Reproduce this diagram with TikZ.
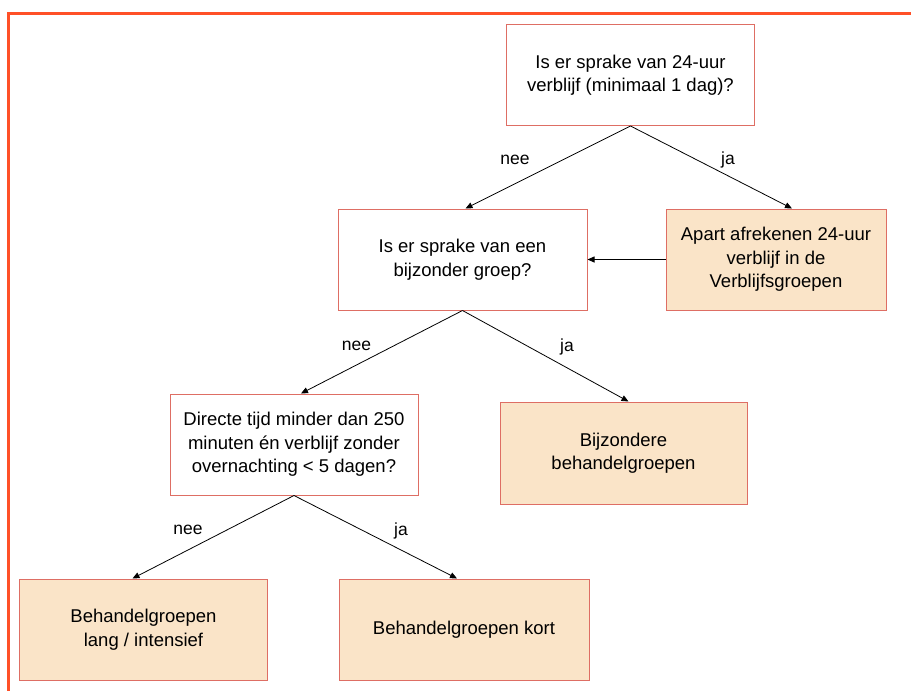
\documentclass[tikz,border=0pt]{standalone}
\usepackage{fontspec}
\setmainfont{Liberation Sans}
\usetikzlibrary{arrows.meta}
\definecolor{boxfill}{RGB}{250,228,200}
\definecolor{boxline}{RGB}{222,110,100}
\definecolor{framecol}{RGB}{255,80,40}
\tikzset{
  qbox/.style={draw=boxline, line width=1pt, fill=white, minimum width=248pt, minimum height=101pt, inner sep=0pt, align=center, font=\fontsize{18.5}{23.5}\selectfont},
  abox/.style={qbox, fill=boxfill},
  conn/.style={draw=black, line width=0.8pt, -{Triangle[length=7pt,width=6pt]}},
  lbl/.style={font=\fontsize{17.5}{20}\selectfont, inner sep=0pt}
}
\begin{document}
\begin{tikzpicture}[x=1pt,y=-1pt]
\useasboundingbox (0,0) rectangle (911,691);
\draw[framecol, line width=2.2pt] (8.5,691) -- (8.5,13.5) -- (911,13.5);
\node[qbox] (b1) at (630.5,75) {Is er sprake van 24-uur\\verblijf (minimaal 1 dag)?};
\node[qbox, minimum width=249pt] (b2) at (462.5,259.5) {Is er sprake van een\\bijzonder groep?};
\node[abox, minimum width=220pt] (b3) at (776,259.5) {Apart afrekenen 24-uur\\verblijf in de\\Verblijfsgroepen};
\node[qbox] (b4) at (294,444.5) {Directe tijd minder dan 250\\minuten én verblijf zonder\\overnachting < 5 dagen?};
\node[abox, minimum width=247pt, minimum height=102pt] (b5) at (623.5,453) {Bijzondere\\behandelgroepen};
\node[abox] (b6) at (143.5,629.5) {Behandelgroepen\\lang / intensief};
\node[abox, minimum width=250pt] (b7) at (464,629.5) {Behandelgroepen kort};
\draw[conn] (b1.south) -- ([xshift=3pt]b2.north);
\draw[conn] (b1.south) -- ([xshift=16pt]b3.north);
\draw[conn] (b3.west) -- (b2.east);
\draw[conn] (b2.south) -- ([xshift=7pt]b4.north);
\draw[conn] (b2.south) -- ([xshift=5pt]b5.north);
\draw[conn] (b4.south) -- ([xshift=-11pt]b6.north);
\draw[conn] (b4.south) -- ([xshift=-7pt]b7.north);
\node[lbl] (l1) at (515,160) {nee};
\node[lbl] (l2) at (728,160) {ja};
\node[lbl] (l3) at (356.5,346) {nee};
\node[lbl] (l4) at (567,347) {ja};
\node[lbl] (l5) at (188,530) {nee};
\node[lbl] (l6) at (401,531) {ja};
\end{tikzpicture}
\end{document}
